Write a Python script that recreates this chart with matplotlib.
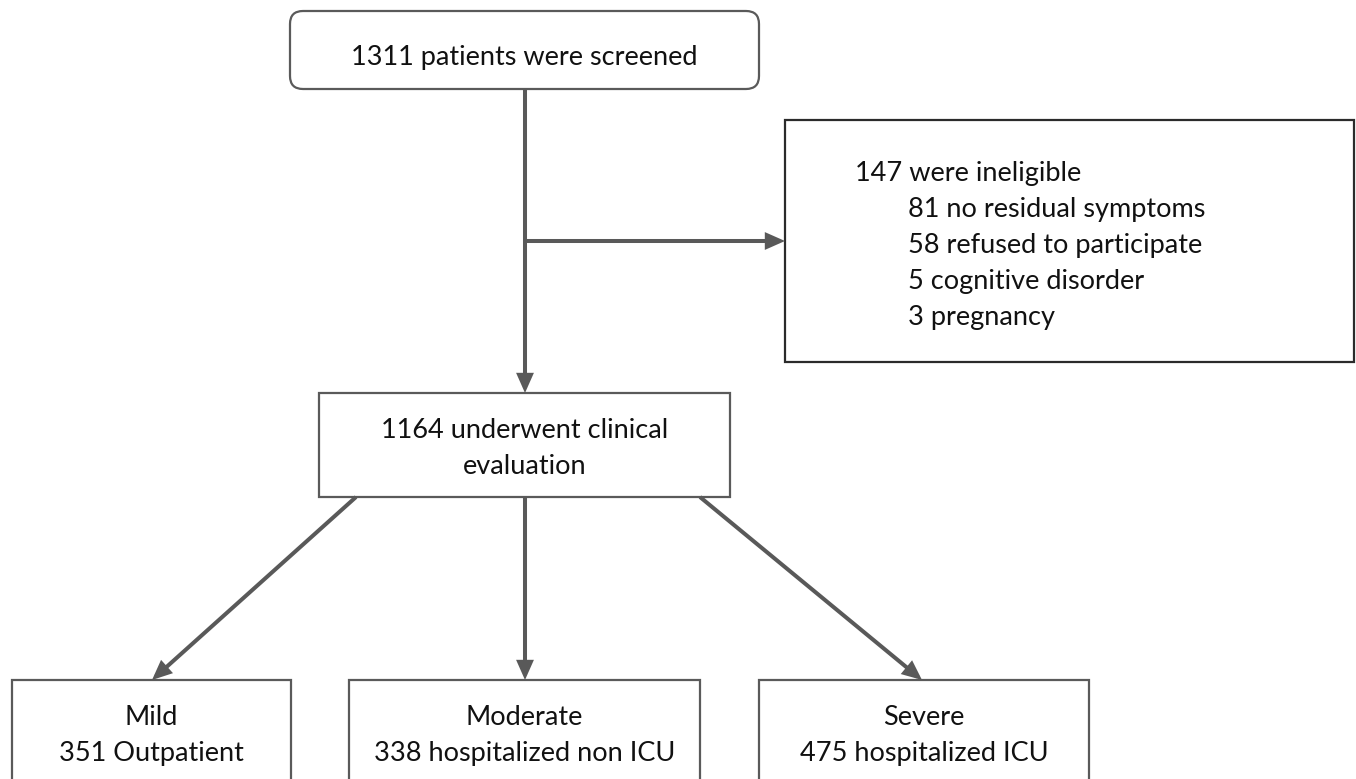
import matplotlib
matplotlib.use("Agg")
import matplotlib.pyplot as plt
from matplotlib.patches import Rectangle, FancyBboxPatch, FancyArrowPatch

# ---- data ----
screened = 1311
ineligible_total = 147
ineligible_counts = [81, 58, 5, 3]
ineligible_reasons = ["no residual symptoms", "refused to participate", "cognitive disorder", "pregnancy"]
evaluated = 1164
severity_labels = ["Mild", "Moderate", "Severe"]
severity_counts = [351, 338, 475]
severity_desc = ["Outpatient", "hospitalized non ICU", "hospitalized ICU"]

W, H = 1356, 779
fig = plt.figure(figsize=(W / 100, H / 100), dpi=100)
ax = fig.add_axes([0, 0, 1, 1])
ax.set_xlim(0, W)
ax.set_ylim(H, 0)
ax.axis("off")

FONT = "Lato"
FS = 19.5
TXT = "#111111"
EDGE = "#5a5a5a"
ARROW = "#595959"

def box(x0, y0, x1, y1, color=EDGE, lw=1.6, rounded=False):
    if rounded:
        p = FancyBboxPatch((x0, y0), x1 - x0, y1 - y0,
                           boxstyle="round,pad=0,rounding_size=13",
                           fc="white", ec=color, lw=lw, zorder=2)
    else:
        p = Rectangle((x0, y0), x1 - x0, y1 - y0, fc="white", ec=color, lw=lw, zorder=2)
    ax.add_patch(p)

def arrow(p0, p1, head=True):
    style = "-|>,head_length=0.95,head_width=0.42" if head else "-"
    a = FancyArrowPatch(p0, p1, arrowstyle=style, mutation_scale=10,
                        color=ARROW, lw=2.9, shrinkA=0, shrinkB=0, zorder=3,
                        capstyle="butt", joinstyle="miter")
    ax.add_patch(a)

def text(x, y, s, ha="center"):
    ax.text(x, y, s, ha=ha, va="baseline", fontsize=FS, family=FONT, color=TXT, zorder=4)

# top box
box(290, 11, 759, 89, rounded=True)
text(524.5, 65, f"{screened} patients were screened")

# vertical line + arrow to evaluation box
arrow((525, 89), (525, 393))
# horizontal arrow to ineligible box
arrow((525, 241), (785, 241))

# ineligible box
box(785, 120, 1354, 362, color="#2b2b2b", lw=1.6)
text(855, 181, f"{ineligible_total} were ineligible", ha="left")
for i, (c, r) in enumerate(zip(ineligible_counts, ineligible_reasons)):
    text(908, 217 + 36 * i, f"{c} {r}", ha="left")

# evaluation box
box(319, 393, 730, 497)
text(524.5, 438, f"{evaluated} underwent clinical")
text(524.5, 474, "evaluation")

# bottom boxes
bottom_boxes = [(12, 291), (349, 700), (759, 1089)]
starts = [(356, 497), (525, 497), (700, 497)]
tips = [(152, 680), (525, 680), (922, 680)]
for (x0, x1), s, t, lab, cnt, desc in zip(bottom_boxes, starts, tips,
                                          severity_labels, severity_counts, severity_desc):
    box(x0, 680, x1, 800)
    arrow(s, t)
    cx = (x0 + x1) / 2
    text(cx, 725, lab)
    text(cx, 761, f"{cnt} {desc}")

fig.savefig("out.png", dpi=100, facecolor="white")
